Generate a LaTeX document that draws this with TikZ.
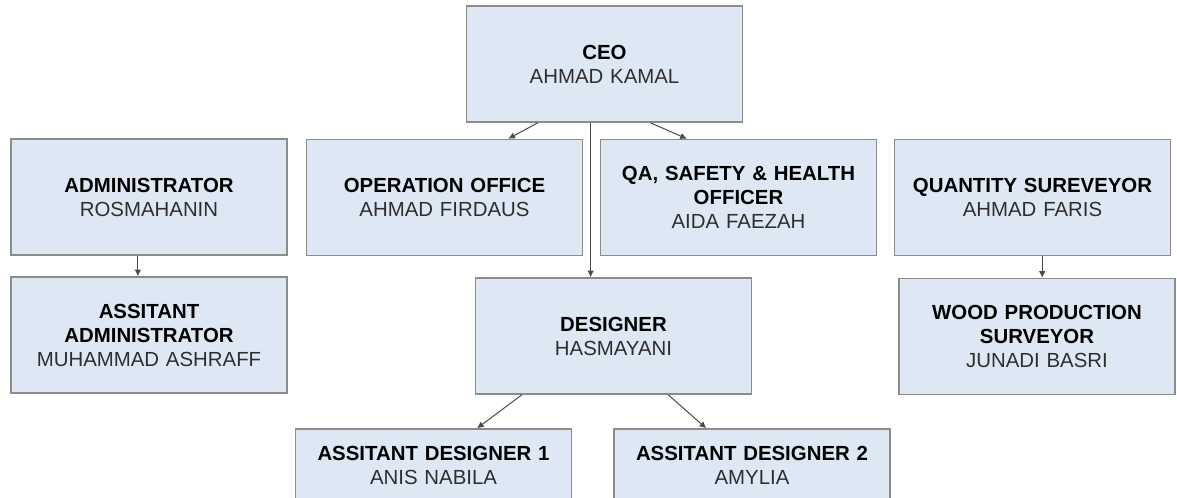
\documentclass[tikz,border=0pt]{standalone}
\usepackage{fontspec}
\setmainfont{Liberation Sans}
\usepackage{xcolor}
\usetikzlibrary{arrows.meta, calc}

\definecolor{boxfill}{HTML}{DEE8F5}
\definecolor{boxline}{HTML}{8C8C8C}
\definecolor{namegray}{HTML}{2E2E2E}
\definecolor{linkgray}{HTML}{4A4A4A}
\newcommand{\role}[2]{\textbf{#1}\\\textcolor{namegray}{#2}}

\begin{document}
\begin{tikzpicture}[x=0.75pt,y=-0.75pt,
	box/.style={draw=boxline, line width=1.1pt, fill=boxfill, minimum width=207pt, minimum height=87pt,
		text width=200pt, align=center, inner sep=0pt, font=\fontsize{15.3pt}{18pt}\selectfont},
	lowbox/.style={box, minimum height=54pt},
	conn/.style={draw=linkgray, line width=0.75pt, -{Latex[length=5pt,width=5pt]}}]
				\useasboundingbox (0,0) rectangle (1177,497);
				\clip (0,0) rectangle (1177,497);
				% top
				\node[box] (ceo) at (604.5,64) {\role{CEO}{AHMAD KAMAL}};
				% second row
				\node[box] (admin) at (149,197) {\role{ADMINISTRATOR}{ROSMAHANIN}};
				\node[box] (ops) at (444.5,197.5) {\role{OPERATION OFFICE}{AHMAD FIRDAUS}};
				\node[box] (qa) at (738.5,197.5) {\role{QA, SAFETY \& HEALTH\\OFFICER}{AIDA FAEZAH}};
				\node[box] (qs) at (1032.5,197.5) {\role{QUANTITY SUREVEYOR}{AHMAD FARIS}};
				% third row
				\node[box] (asstadmin) at (149,335) {\role{ASSITANT\\ADMINISTRATOR}{MUHAMMAD ASHRAFF}};
				\node[box] (des) at (613.5,336) {\role{DESIGNER}{HASMAYANI}};
				\node[box] (wood) at (1037,336.5) {\role{WOOD PRODUCTION\\SURVEYOR}{JUNADI BASRI}};
				% bottom row
				\node[lowbox] (ad1) at (433.5,465) {\role{ASSITANT DESIGNER 1}{ANIS NABILA}};
				\node[lowbox] (ad2) at (752,465) {\role{ASSITANT DESIGNER 2}{AMYLIA}};
				% links
				\draw[conn] ($(ceo.south west)!0.26!(ceo.south east)$) -- ($(ops.north west)!0.73!(ops.north east)$);
				\draw[conn] ($(ceo.south west)!0.665!(ceo.south east)$) -- ($(qa.north west)!0.314!(qa.north east)$);
				\draw[conn] ($(ceo.south west)!0.45!(ceo.south east)$) coordinate (ceodrop) -- (ceodrop |- des.north);
				\draw[conn] ($(admin.south west)!0.46!(admin.south east)$) coordinate (admindrop) -- (admindrop |- asstadmin.north);
				\draw[conn] ($(qs.south west)!0.535!(qs.south east)$) coordinate (qsdrop) -- (qsdrop |- wood.north);
				\draw[conn] ($(des.south west)!0.17!(des.south east)$) -- ($(ad1.north west)!0.657!(ad1.north east)$);
				\draw[conn] ($(des.south west)!0.697!(des.south east)$) -- ($(ad2.north west)!0.335!(ad2.north east)$);
			\end{tikzpicture}
\end{document}
